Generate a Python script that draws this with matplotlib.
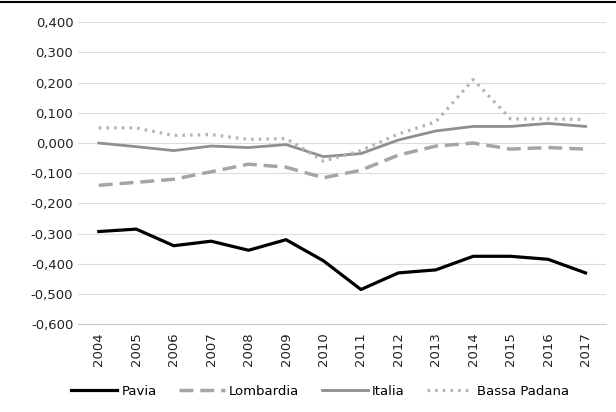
import matplotlib.pyplot as plt
import numpy as np

years = ['2004', '2005', '2006', '2007', '2008', '2009', '2010',
         '2011', '2012', '2013', '2014', '2015', '2016', '2017']
pavia = [-0.293, -0.285, -0.340, -0.325, -0.355, -0.320, -0.390,
         -0.485, -0.430, -0.420, -0.375, -0.375, -0.385, -0.430]
lombardia = [-0.140, -0.130, -0.120, -0.095, -0.070, -0.080, -0.115,
             -0.090, -0.040, -0.010, 0.000, -0.020, -0.015, -0.020]
italia = [0.000, -0.012, -0.025, -0.010, -0.015, -0.005, -0.045,
          -0.035, 0.010, 0.040, 0.055, 0.055, 0.065, 0.055]
bassa = [0.050, 0.050, 0.025, 0.028, 0.012, 0.015, -0.060,
         -0.025, 0.030, 0.070, 0.210, 0.080, 0.080, 0.078]
yticks = [-0.6, -0.5, -0.4, -0.3, -0.2, -0.1, 0.0, 0.1, 0.2, 0.3, 0.4]

plt.rcParams['font.family'] = ['DejaVu Sans']

fig = plt.figure(figsize=(6.16, 4.12), dpi=100)
ax = fig.add_axes([0.127, 0.213, 0.857, 0.733])
x = np.arange(len(years))

ax.plot(x, pavia, color='black', lw=2.3, label='Pavia')
ax.plot(x, lombardia, color='#a5a5a5', lw=2.5, ls=(0, (4, 2)), label='Lombardia')
ax.plot(x, italia, color='#8f8f8f', lw=2, label='Italia')
ax.plot(x, bassa, color='#b3b3b3', lw=2.3, ls=(0, (0.8, 1.6)), label='Bassa Padana')

ax.set_ylim(-0.6, 0.4)
ax.set_yticks(yticks)
ax.set_yticklabels([f'{v:.3f}'.replace('.', ',') for v in yticks])
ax.set_xlim(-0.55, len(years) - 0.45)
ax.set_xticks(x)
ax.set_xticklabels(years, rotation=90)
ax.tick_params(axis='both', labelsize=9.5, length=0, colors='#222222')
ax.tick_params(axis='x', pad=6)
ax.grid(axis='y', color='#dddddd', lw=0.8)
ax.set_axisbelow(True)
for s in ['top', 'right', 'left']:
    ax.spines[s].set_visible(False)
ax.spines['bottom'].set_color('#cccccc')

fig.legend(loc='lower center', ncol=4, frameon=False, fontsize=9.5,
           bbox_to_anchor=(0.52, 0.005), handlelength=3.5, columnspacing=1.7,
           handletextpad=0.3)

fig.add_artist(plt.Line2D([0, 1], [0.995, 0.995], color='black', lw=1.5))

fig.savefig('out.png', dpi=100)
